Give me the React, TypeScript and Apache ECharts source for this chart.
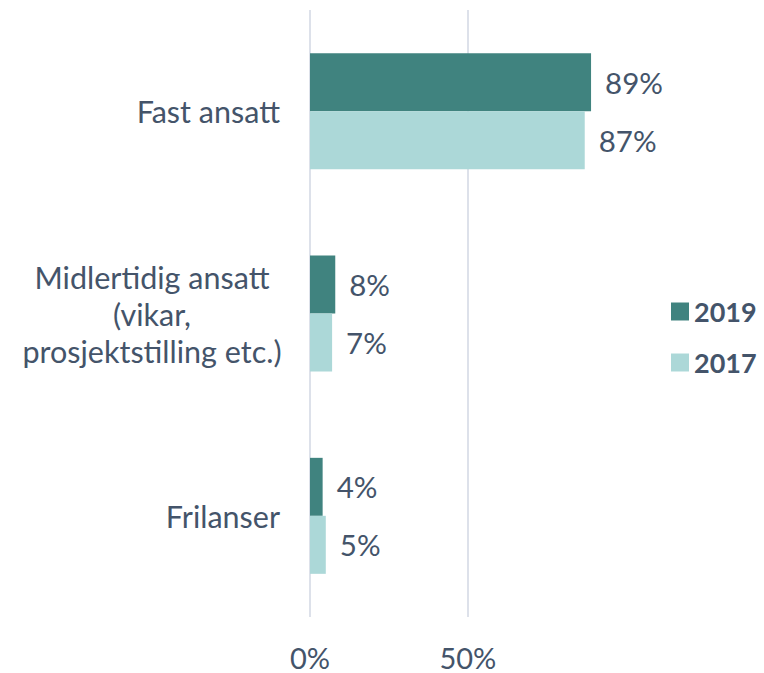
import React, { useEffect, useRef } from "react";
import * as echarts from "echarts";

const categories = [
  "Fast ansatt",
  "Midlertidig ansatt\n(vikar,\nprosjektstilling etc.)",
  "Frilanser",
];
const seriesNames = ["2019", "2017"];
const values2019 = [89, 8, 4];
const values2017 = [87, 7, 5];
const xTicks = [0, 50];

const TEXT = "#44546a";
const FONT = "Lato, 'Noto Sans', sans-serif";

export default function App() {
  const ref = useRef<HTMLDivElement>(null);
  useEffect(() => {
    if (!ref.current) return;
    const chart = echarts.init(ref.current, undefined, { renderer: "svg" });
    const labelStyle = {
      show: true,
      position: "right",
      distance: 14,
      formatter: "{c}%",
      fontSize: 29.5,
      color: TEXT,
      fontFamily: FONT,
    };
    chart.setOption({
      animation: false,
      textStyle: { fontFamily: FONT, color: TEXT },
      grid: {
        left: 310,
        right: 154,
        top: 10,
        bottom: 56,
        containLabel: false,
        outerBoundsMode: "none",
      },
      legend: {
        data: seriesNames,
        orient: "vertical",
        left: 666,
        top: 293,
        itemWidth: 18,
        itemHeight: 18,
        itemGap: 24,
        icon: "rect",
        textStyle: { fontFamily: FONT, fontSize: 27, fontWeight: "bold", color: TEXT },
      },
      xAxis: {
        type: "value",
        min: 0,
        max: 95,
        interval: 50,
        axisLine: { show: false },
        axisTick: { show: false },
        splitLine: { show: false },
        axisLabel: {
          margin: 27,
          fontSize: 29,
          lineHeight: 26,
          color: TEXT,
          fontFamily: FONT,
          formatter: (v: number) => (xTicks.includes(v) ? v + "%" : ""),
        },
      },
      yAxis: {
        type: "category",
        data: categories,
        inverse: true,
        axisLine: { show: false },
        axisTick: { show: false },
        axisLabel: {
          margin: 30,
          fontSize: 30.5,
          color: TEXT,
          fontFamily: FONT,
          lineHeight: 37,
          formatter: (v: string) =>
            v.includes("\n")
              ? v
                  .split("\n")
                  .map((l) => "{c|" + l + "}")
                  .join("\n")
              : v,
          rich: {
            c: { width: 256, align: "center", fontSize: 30.5, lineHeight: 37, color: TEXT, fontFamily: FONT },
          },
        },
      },
      series: [
        {
          name: "grid",
          type: "line",
          data: [],
          z: 0,
          silent: true,
          markLine: {
            silent: true,
            z: 0,
            symbol: "none",
            label: { show: false },
            lineStyle: { color: "#dde1ea", width: 2, type: "solid" },
            data: xTicks.map((t) => ({ xAxis: t })),
          },
        },
        {
          name: seriesNames[0],
          type: "bar",
          data: values2019,
          barWidth: 58,
          barGap: "0%",
          z: 3,
          itemStyle: { color: "#40837f" },
          label: labelStyle,
        },
        {
          name: seriesNames[1],
          type: "bar",
          data: values2017,
          barWidth: 58,
          barGap: "0%",
          z: 3,
          itemStyle: { color: "#acd8d8" },
          label: labelStyle,
        },
      ],
    });
    return () => chart.dispose();
  }, []);
  return (
    <div
      ref={ref}
      style={{ position: "absolute", left: 0, top: 0, width: 764, height: 673 }}
    />
  );
}
